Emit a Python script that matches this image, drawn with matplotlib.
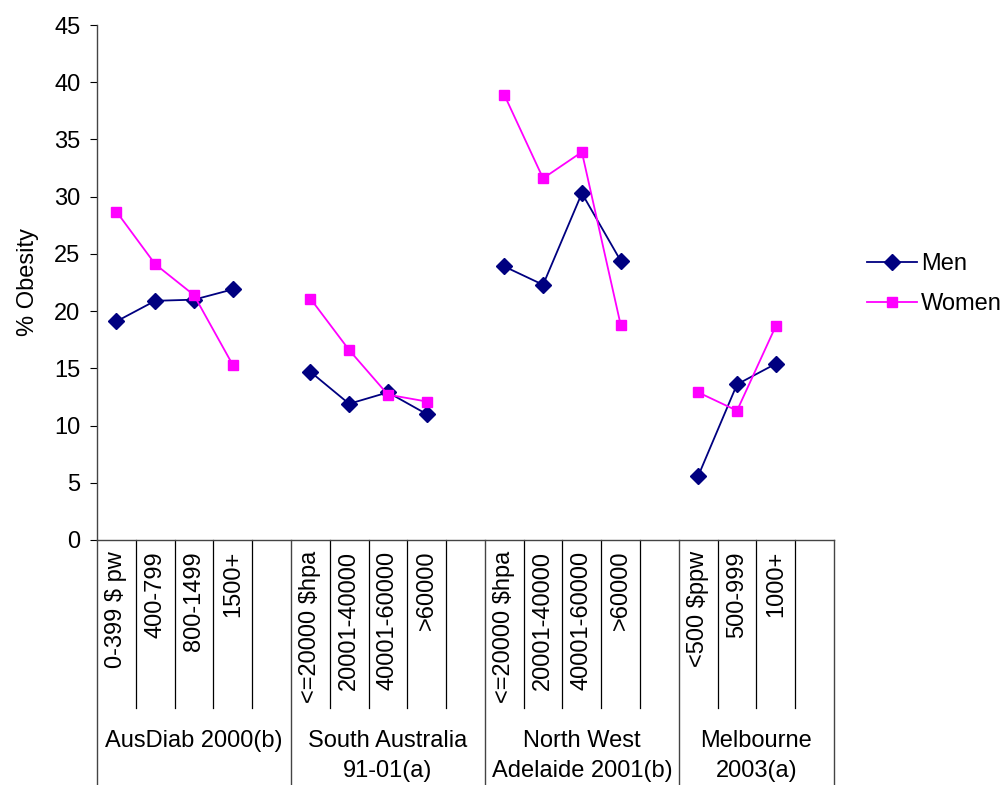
import matplotlib.pyplot as plt
import numpy as np

plt.rcParams['font.family'] = ['Liberation Sans', 'DejaVu Sans']

# categories (blank slot at the end of each study group)
groups = ['AusDiab 2000(b)', 'South Australia\n91-01(a)',
          'North West\nAdelaide 2001(b)', 'Melbourne\n2003(a)']
group_cats = [
    ['0-399 $ pw', '400-799', '800-1499', '1500+', ''],
    ['<=20000 $hpa', '20001-40000', '40001-60000', '>60000', ''],
    ['<=20000 $hpa', '20001-40000', '40001-60000', '>60000', ''],
    ['<500 $ppw', '500-999', '1000+', ''],
]
nan = np.nan
men = [19.1, 20.9, 21.0, 21.9, nan,
       14.7, 11.9, 12.9, 11.0, nan,
       23.9, 22.3, 30.3, 24.4, nan,
       5.6, 13.6, 15.4, nan]
women = [28.7, 24.1, 21.4, 15.3, nan,
         21.1, 16.6, 12.7, 12.1, nan,
         38.9, 31.6, 33.9, 18.8, nan,
         12.9, 11.3, 18.7, nan]

cats = [c for g in group_cats for c in g]
x = np.arange(len(cats))

FS = 17
W, H = 1008, 785
fig = plt.figure(figsize=(W / 100, H / 100), dpi=100)
ax = fig.add_axes([97 / W, (H - 540) / H, (834 - 97) / W, (540 - 25) / H])

ax.plot(x, men, color='#000080', marker='D', markersize=8.5, linewidth=1.3, label='Men')
ax.plot(x, women, color='#FF00FF', marker='s', markersize=7.5, linewidth=1.3, label='Women')

ax.set_xlim(-0.5, len(cats) - 0.5)
ax.set_ylim(0, 45)
ax.set_yticks(np.arange(0, 46, 5))
ax.tick_params(axis='y', direction='out', length=5, width=0.8, labelsize=FS, pad=7)
ax.set_ylabel('% Obesity', fontsize=FS, labelpad=11)
ax.set_xticks([])
for s in ['top', 'right']:
    ax.spines[s].set_visible(False)
for s in ['left', 'bottom']:
    ax.spines[s].set_color('#444444')
    ax.spines[s].set_linewidth(1.0)

# multi-level category axis
tr = ax.get_xaxis_transform()
ax_h = 540 - 25
minor_y = -(708 - 540) / ax_h
bottom_y = -(H - 540) / ax_h
label_top = -(551 - 540) / ax_h
group_top = -(730 - 540) / ax_h

start = 0
bounds = [-0.5]
for g, gc in zip(groups, group_cats):
    for i, c in enumerate(gc):
        xi = start + i
        if c:
            ax.text(xi, label_top, c, transform=tr, rotation=90, ha='center',
                    va='top', fontsize=FS)
        if i < len(gc) - 1:
            ax.plot([xi + 0.5, xi + 0.5], [0, minor_y], transform=tr,
                    color='black', lw=0.9, clip_on=False)
    end = start + len(gc) - 0.5
    bounds.append(end)
    ax.text((start - 0.5 + end) / 2, group_top, g, transform=tr,
            ha='center', va='top', fontsize=FS, linespacing=1.45,
            multialignment='center')
    start += len(gc)

for b in bounds:
    ax.plot([b, b], [0, bottom_y], transform=tr, color='#444444', lw=1.0,
            clip_on=False)

fig.legend(loc='center left', bbox_to_anchor=(867 / W, 1 - 284 / H),
           frameon=False, fontsize=FS, handlelength=2.1, labelspacing=0.75,
           handletextpad=0.2, borderpad=0, borderaxespad=0)

fig.savefig('out.png', dpi=100)
